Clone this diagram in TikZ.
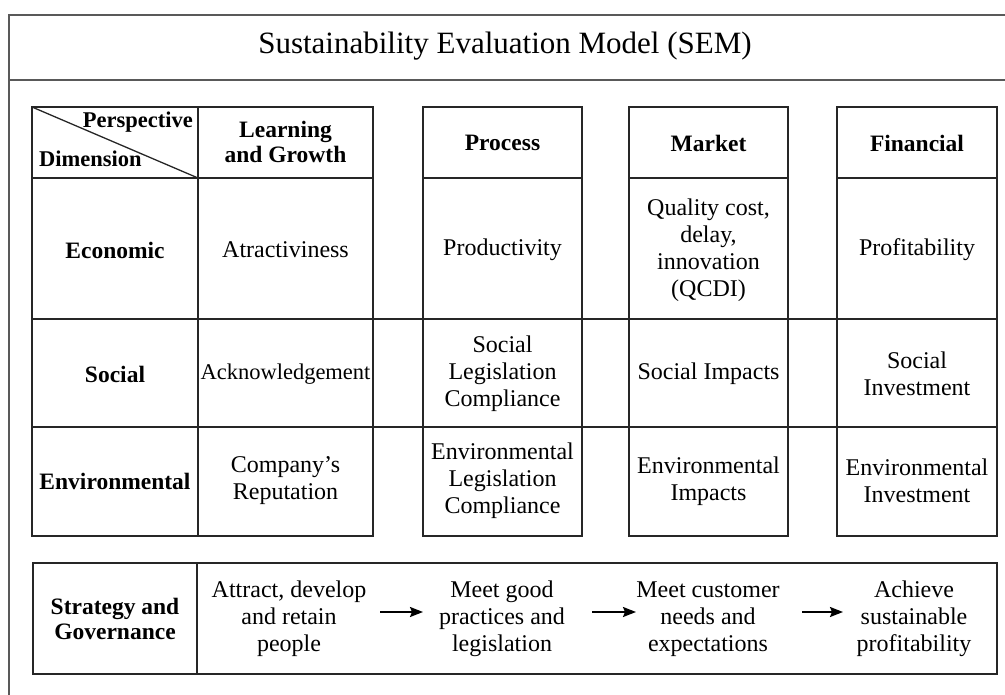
\documentclass[tikz,border=0pt]{standalone}
\usepackage{fontspec}
\setmainfont{Liberation Serif}
\usetikzlibrary{arrows.meta}
\begin{document}
\begin{tikzpicture}[x=1pt,y=-1pt,
  frame/.style={draw=black!65, line width=2pt},
  grid/.style={draw=black!85, line width=1.3pt},
  txt/.style={font=\fontsize{24}{27}\selectfont, align=center, inner sep=0pt},
  hdr/.style={font=\fontsize{23.5}{25.5}\selectfont\bfseries, align=center, inner sep=0pt},
  corner/.style={font=\fontsize{22.5}{25}\selectfont\bfseries, inner sep=0pt},
  arr/.style={-{Stealth[length=13pt,width=10pt,inset=2pt]}, line width=1.8pt}]
\useasboundingbox (0,0) rectangle (1005,695);
% outer frame
\draw[frame] (9,695) -- (9,15) -- (1005,15);
\draw[frame] (9,80) -- (1005,80);
\node[font=\fontsize{31}{36}\selectfont, inner sep=0pt] (title) at (505,46) {Sustainability Evaluation Model (SEM)};
% table blocks
\draw[grid] (32,107) rectangle (373,536);
\draw[grid] (198,107) -- (198,536);
\draw[grid] (32,178) -- (373,178);
\draw[grid] (32,107) -- (198,178);
\draw[grid] (423,107) rectangle (582,536);
\draw[grid] (423,178) -- (582,178);
\draw[grid] (629,107) rectangle (788,536);
\draw[grid] (629,178) -- (788,178);
\draw[grid] (837,107) rectangle (997,536);
\draw[grid] (837,178) -- (997,178);
\draw[grid] (32,319) -- (997,319);
\draw[grid] (32,427) -- (997,427);
% header texts
\node[corner, anchor=base east] (persp) at (193,128) {Perspective};
\node[corner, anchor=base west] (dimen) at (39,167) {Dimension};
\node[hdr] (hLG) at (285.5,142) {Learning\\and Growth};
\node[hdr] (hPr) at (502.5,143) {Process};
\node[hdr] (hMa) at (708.5,143) {Market};
\node[hdr] (hFi) at (917,143) {Financial};
% row labels
\node[hdr] (rEc) at (115,250) {Economic};
\node[hdr] (rSo) at (115,374) {Social};
\node[hdr] (rEn) at (115,481) {Environmental};
% economic row
\node[txt] (c11) at (285.5,250) {Atractiviness};
\node[txt] (c12) at (502.5,250) {Productivity};
\node[txt] (c13) at (708.5,250) {Quality cost,\\delay,\\innovation\\(QCDI)};
\node[txt] (c14) at (917,250) {Profitability};
% social row
\node[txt, font=\fontsize{22.5}{27}\selectfont] (c21) at (285.5,374) {Acknowledgement};
\node[txt] (c22) at (502.5,374) {Social\\Legislation\\Compliance};
\node[txt] (c23) at (708.5,374) {Social Impacts};
\node[txt] (c24) at (917,374) {Social\\Investment};
% environmental row
\node[txt] (c31) at (285.5,481) {Company’s\\Reputation};
\node[txt] (c32) at (502.5,481) {Environmental\\Legislation\\Compliance};
\node[txt] (c33) at (708.5,481) {Environmental\\Impacts};
\node[txt] (c34) at (917,481) {Environmental\\Investment};
% strategy box
\draw[grid] (33,563) rectangle (997,674);
\draw[grid] (197,563) -- (197,674);
\node[hdr] (sg) at (115,619) {Strategy and\\Governance};
\node[txt] (s1) at (289,619) {Attract, develop\\and retain\\people};
\node[txt] (s2) at (502,619) {Meet good\\practices and\\legislation};
\node[txt] (s3) at (708,619) {Meet customer\\needs and\\expectations};
\node[txt] (s4) at (914,619) {Achieve\\sustainable\\profitability};
\coordinate (a1s) at (380,612); \coordinate (a1e) at (423,612);
\coordinate (a2s) at (592,612); \coordinate (a2e) at (636,612);
\coordinate (a3s) at (802,612); \coordinate (a3e) at (843,612);
\draw[arr] (a1s) -- (a1e);
\draw[arr] (a2s) -- (a2e);
\draw[arr] (a3s) -- (a3e);
\end{tikzpicture}
\end{document}
